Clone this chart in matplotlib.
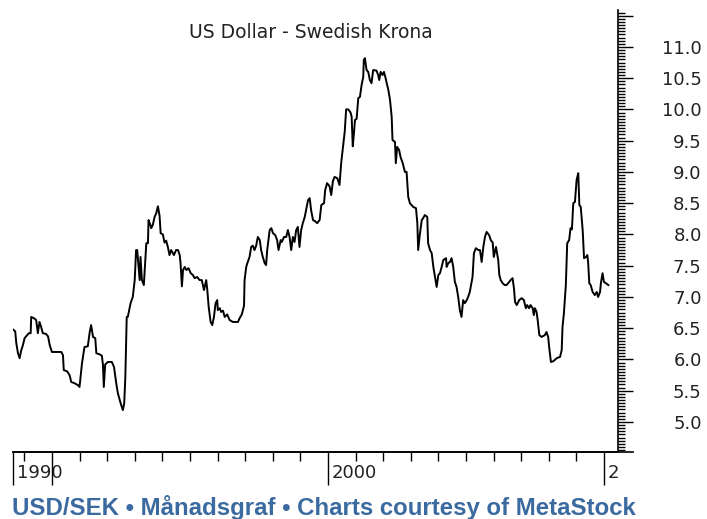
import numpy as np
import matplotlib
matplotlib.use('Agg')
import matplotlib.pyplot as plt
from matplotlib.ticker import FixedLocator, FixedFormatter, MultipleLocator
from matplotlib.transforms import ScaledTranslation

# USD/SEK, monthly chart (decimal year, SEK per USD)
years = [
    1988.59, 1988.67, 1988.71, 1988.77, 1988.83, 1988.89, 1988.95, 1989.01, 1989.16, 1989.23,
    1989.25, 1989.35, 1989.43, 1989.49, 1989.55, 1989.61, 1989.67, 1989.78, 1989.86, 1989.92,
    1990.00, 1990.16, 1990.34, 1990.40, 1990.43, 1990.55, 1990.64, 1990.70, 1990.82, 1990.94,
    1991.00, 1991.09, 1991.18, 1991.30, 1991.37, 1991.42, 1991.49, 1991.57, 1991.61, 1991.74,
    1991.81, 1991.85, 1991.88, 1991.93, 1992.03, 1992.17, 1992.25, 1992.33, 1992.39, 1992.49,
    1992.57, 1992.62, 1992.66, 1992.71, 1992.75, 1992.85, 1992.93, 1993.00, 1993.05, 1993.09,
    1993.18, 1993.21, 1993.26, 1993.33, 1993.42, 1993.48, 1993.50, 1993.56, 1993.60, 1993.66,
    1993.72, 1993.78, 1993.84, 1993.90, 1993.94, 1994.02, 1994.08, 1994.14, 1994.20, 1994.26,
    1994.32, 1994.42, 1994.50, 1994.57, 1994.63, 1994.66, 1994.71, 1994.75, 1994.81, 1994.87,
    1994.95, 1995.03, 1995.11, 1995.17, 1995.26, 1995.35, 1995.43, 1995.51, 1995.59, 1995.63,
    1995.68, 1995.75, 1995.81, 1995.87, 1995.93, 1995.99, 1996.01, 1996.08, 1996.13, 1996.20,
    1996.26, 1996.35, 1996.44, 1996.56, 1996.74, 1996.80, 1996.88, 1996.96, 1996.98, 1997.04,
    1997.08, 1997.16, 1997.22, 1997.28, 1997.34, 1997.40, 1997.46, 1997.53, 1997.58, 1997.64,
    1997.71, 1997.76, 1997.80, 1997.89, 1997.95, 1998.01, 1998.09, 1998.16, 1998.21, 1998.29,
    1998.33, 1998.41, 1998.49, 1998.55, 1998.61, 1998.67, 1998.73, 1998.79, 1998.85, 1998.91,
    1998.97, 1999.03, 1999.09, 1999.16, 1999.21, 1999.28, 1999.34, 1999.39, 1999.46, 1999.54,
    1999.61, 1999.70, 1999.76, 1999.86, 1999.90, 1999.97, 2000.06, 2000.12, 2000.18, 2000.24,
    2000.34, 2000.42, 2000.48, 2000.54, 2000.61, 2000.66, 2000.74, 2000.82, 2000.86, 2000.90,
    2000.94, 2000.98, 2001.04, 2001.10, 2001.16, 2001.22, 2001.28, 2001.30, 2001.34, 2001.40,
    2001.46, 2001.52, 2001.58, 2001.64, 2001.76, 2001.82, 2001.86, 2001.91, 2001.98, 2002.03,
    2002.09, 2002.13, 2002.19, 2002.25, 2002.31, 2002.34, 2002.43, 2002.46, 2002.51, 2002.58,
    2002.63, 2002.71, 2002.79, 2002.85, 2002.91, 2002.97, 2003.09, 2003.19, 2003.24, 2003.27,
    2003.33, 2003.40, 2003.45, 2003.51, 2003.60, 2003.63, 2003.70, 2003.76, 2003.82, 2003.88,
    2003.94, 2004.00, 2004.06, 2004.12, 2004.18, 2004.28, 2004.30, 2004.36, 2004.42, 2004.48,
    2004.54, 2004.60, 2004.66, 2004.72, 2004.78, 2004.84, 2004.90, 2004.96, 2005.03, 2005.08,
    2005.14, 2005.24, 2005.29, 2005.36, 2005.45, 2005.51, 2005.57, 2005.63, 2005.69, 2005.75,
    2005.84, 2005.90, 2005.97, 2006.01, 2006.09, 2006.17, 2006.21, 2006.26, 2006.33, 2006.41,
    2006.47, 2006.53, 2006.62, 2006.69, 2006.74, 2006.78, 2006.84, 2006.93, 2007.02, 2007.10,
    2007.17, 2007.22, 2007.29, 2007.34, 2007.42, 2007.46, 2007.50, 2007.56, 2007.60, 2007.66,
    2007.74, 2007.86, 2007.92, 2007.98, 2008.02, 2008.08, 2008.16, 2008.29, 2008.34, 2008.41,
    2008.47, 2008.50, 2008.55, 2008.62, 2008.67, 2008.74, 2008.79, 2008.84, 2008.89, 2008.95,
    2009.01, 2009.07, 2009.11, 2009.16, 2009.23, 2009.28, 2009.35, 2009.40, 2009.43, 2009.47,
    2009.52, 2009.59, 2009.67, 2009.74, 2009.79, 2009.86, 2009.89, 2009.95, 2010.00, 2010.07,
    2010.16,
]
usdsek = [
    6.48, 6.45, 6.26, 6.10, 6.02, 6.15, 6.23, 6.34, 6.42, 6.42,
    6.68, 6.66, 6.63, 6.42, 6.60, 6.52, 6.42, 6.41, 6.37, 6.23,
    6.12, 6.12, 6.12, 6.07, 5.83, 5.81, 5.75, 5.64, 5.62, 5.59,
    5.56, 5.94, 6.20, 6.21, 6.44, 6.55, 6.36, 6.34, 6.10, 6.08,
    6.06, 5.91, 5.56, 5.92, 5.96, 5.96, 5.88, 5.62, 5.46, 5.30,
    5.19, 5.30, 5.72, 6.68, 6.68, 6.90, 7.00, 7.27, 7.75, 7.75,
    7.27, 7.64, 7.27, 7.19, 7.86, 7.86, 8.23, 8.16, 8.10, 8.16,
    8.28, 8.34, 8.45, 8.30, 8.02, 8.00, 7.87, 7.90, 7.80, 7.67,
    7.75, 7.67, 7.75, 7.75, 7.67, 7.54, 7.17, 7.43, 7.48, 7.43,
    7.46, 7.38, 7.35, 7.30, 7.32, 7.27, 7.27, 7.11, 7.27, 7.11,
    6.84, 6.60, 6.55, 6.68, 6.90, 6.95, 6.79, 6.82, 6.76, 6.78,
    6.68, 6.72, 6.63, 6.60, 6.60, 6.66, 6.72, 6.86, 7.27, 7.48,
    7.54, 7.64, 7.80, 7.82, 7.75, 7.82, 7.96, 7.91, 7.75, 7.64,
    7.54, 7.51, 7.75, 8.07, 8.10, 8.02, 7.99, 7.91, 7.75, 7.91,
    7.88, 7.96, 7.96, 8.07, 7.96, 7.75, 7.96, 7.88, 8.07, 8.12,
    7.80, 8.07, 8.18, 8.28, 8.39, 8.55, 8.58, 8.39, 8.23, 8.21,
    8.18, 8.23, 8.47, 8.50, 8.71, 8.82, 8.77, 8.63, 8.85, 8.92,
    8.90, 8.79, 9.14, 9.38, 9.65, 10.00, 10.00, 9.95, 9.88, 9.41,
    9.60, 9.83, 9.85, 10.18, 10.20, 10.39, 10.52, 10.79, 10.82, 10.63,
    10.60, 10.47, 10.42, 10.63, 10.62, 10.55, 10.47, 10.60, 10.55, 10.60,
    10.50, 10.42, 10.31, 10.15, 9.88, 9.51, 9.48, 9.14, 9.40, 9.35,
    9.24, 9.14, 9.00, 9.00, 8.60, 8.50, 8.44, 8.42, 8.18, 7.75,
    8.00, 8.23, 8.26, 8.31, 8.28, 7.86, 7.75, 7.70, 7.48, 7.32,
    7.16, 7.35, 7.38, 7.48, 7.59, 7.62, 7.48, 7.54, 7.56, 7.62,
    7.48, 7.24, 7.16, 7.00, 6.79, 6.68, 6.95, 6.90, 6.95, 7.00,
    7.08, 7.32, 7.70, 7.78, 7.75, 7.75, 7.56, 7.80, 7.96, 8.04,
    7.99, 7.91, 7.87, 7.64, 7.80, 7.59, 7.35, 7.27, 7.22, 7.19,
    7.19, 7.22, 7.27, 7.30, 7.14, 6.92, 6.87, 6.95, 6.98, 6.95,
    6.82, 6.87, 6.82, 6.87, 6.82, 6.71, 6.82, 6.76, 6.63, 6.39,
    6.36, 6.39, 6.44, 6.36, 6.18, 5.96, 5.97, 6.02, 6.03, 6.04,
    6.15, 6.52, 6.74, 7.19, 7.86, 7.91, 8.10, 8.08, 8.50, 8.52,
    8.87, 8.98, 8.47, 8.44, 8.07, 7.62, 7.64, 7.67, 7.54, 7.22,
    7.19, 7.08, 7.03, 7.08, 7.00, 7.08, 7.22, 7.38, 7.24, 7.22,
    7.19,
]

x_major = [1988.59, 1990, 2000, 2010]
x_major_labels = ['1990', '', '2000', '2']
x_minor = [1989, 1991, 1992, 1993, 1994, 1995, 1996, 1997, 1998, 1999,
           2001, 2002, 2003, 2004, 2005, 2006, 2007, 2008, 2009]
y_major = [5.0, 5.5, 6.0, 6.5, 7.0, 7.5, 8.0, 8.5, 9.0, 9.5, 10.0, 10.5, 11.0, 11.5]
y_major_labels = ['5.0', '5.5', '6.0', '6.5', '7.0', '7.5', '8.0', '8.5', '9.0', '9.5',
                  '10.0', '10.5', '11.0', '']

W, H = 707, 519
fig = plt.figure(figsize=(W / 100, H / 100), dpi=100)
ax = fig.add_axes([13 / W, 1 - 452 / H, (618 - 13) / W, (452 - 10) / H])

ax.plot(years, usdsek, color='black', lw=1.4)
ax.set_xlim(1988.59, 2010.51)
ax.set_ylim(4.52, 11.59)

for s in ['left', 'top']:
    ax.spines[s].set_visible(False)
ax.spines['right'].set_linewidth(1.2)
ax.spines['bottom'].set_linewidth(1.2)
# bottom axis line runs on under the price scale
ax.plot([0, 1.025], [0, 0], transform=ax.transAxes, color='black', lw=1.2, clip_on=False)

ax.yaxis.tick_right()
ax.yaxis.set_major_locator(FixedLocator(y_major))
ax.yaxis.set_major_formatter(FixedFormatter(y_major_labels))
ax.yaxis.set_minor_locator(MultipleLocator(0.05))
ax.tick_params(axis='y', which='major', length=10.8, width=1.0, pad=49.5, labelsize=13,
               labelcolor='#222222')
ax.tick_params(axis='y', which='minor', length=5, width=1.0)
for lab in ax.get_yticklabels():
    lab.set_horizontalalignment('right')

ax.xaxis.set_major_locator(FixedLocator(x_major))
ax.xaxis.set_major_formatter(FixedFormatter(x_major_labels))
ax.xaxis.set_minor_locator(FixedLocator(x_minor))
ax.tick_params(axis='x', which='major', length=24, width=1.0, pad=-15, labelsize=13,
               labelcolor='#222222')
ax.tick_params(axis='x', which='minor', length=6.5, width=1.0)
shift = ScaledTranslation(4 / 100, 0, fig.dpi_scale_trans)
for lab in ax.get_xticklabels():
    lab.set_horizontalalignment('left')
    lab.set_transform(lab.get_transform() + shift)

fig.text(311 / W, 1 - 38 / H, 'US Dollar - Swedish Krona', ha='center', va='baseline',
         fontsize=13.5, color='#222222')
fig.text(12 / W, 1 - 515 / H, 'USD/SEK \u2022 M\u00e5nadsgraf \u2022 Charts courtesy of MetaStock',
         ha='left', va='baseline', fontsize=17.3, fontweight='bold',
         family='Liberation Sans', color='#3a6a9f')

fig.savefig('out.png', dpi=100)
